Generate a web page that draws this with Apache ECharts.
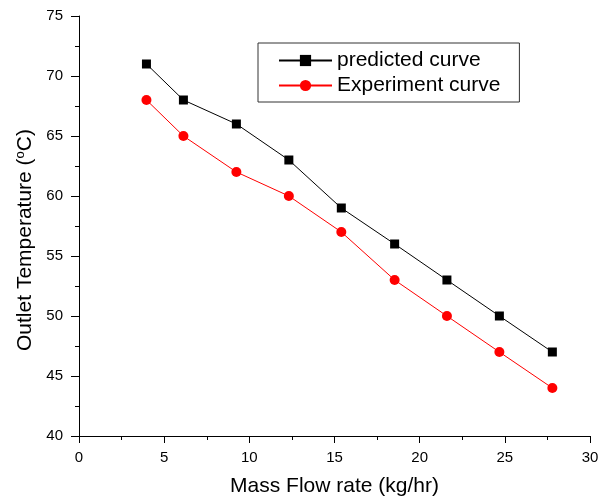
<!DOCTYPE html>
<html>
<head>
<meta charset="utf-8">
<script src="https://cdn.jsdelivr.net/npm/echarts@6/dist/echarts.min.js"></script>
<style>
html,body{margin:0;padding:0;background:#fff;}
#chart{width:612px;height:502px;}
</style>
</head>
<body>
<div id="chart"></div>
<script>
const massFlow = [3.96, 6.13, 9.24, 12.32, 15.4, 18.53, 21.6, 24.68, 27.79];
const predicted = [71, 68, 66, 63, 59, 56, 53, 50, 47];
const experiment = [68, 65, 62, 60, 57, 53, 50, 47, 44];
const seriesNames = ['predicted curve', 'Experiment curve'];

const FONT = 'Liberation Sans, Arial, sans-serif';
const chart = echarts.init(document.getElementById('chart'), null, {renderer: 'canvas'});

function pairs(xs, ys) { return xs.map((x, i) => [x, ys[i]]); }

chart.setOption({
  backgroundColor: '#fff',
  animation: false,
  grid: {left: 79, right: 22, top: 16, bottom: 66, containLabel: false},
  legend: {
    orient: 'vertical',
    left: 258, top: 43,
    padding: [7, 19, 6, 20],
    itemGap: 4,
    itemWidth: 53, itemHeight: 14,
    borderColor: '#333', borderWidth: 1,
    textStyle: {fontFamily: FONT, fontSize: 21, color: '#000'},
    data: seriesNames
  },
  xAxis: {
    type: 'value', min: 0, max: 30, interval: 5,
    name: 'Mass Flow rate (kg/hr)', nameLocation: 'middle', nameGap: 40,
    nameTextStyle: {fontFamily: FONT, fontSize: 21, color: '#000'},
    axisLine: {show: true, onZero: false, lineStyle: {color: '#000', width: 1}},
    axisTick: {show: true, inside: false, length: 7, lineStyle: {color: '#000'}},
    minorTick: {show: true, splitNumber: 2, length: 4, lineStyle: {color: '#000'}},
    axisLabel: {fontFamily: FONT, fontSize: 15, color: '#000', margin: 14},
    splitLine: {show: false}
  },
  yAxis: {
    type: 'value', min: 40, max: 75, interval: 5,
    name: '{t|Outlet Temperature (}{s|o}{t|C)}', nameLocation: 'middle', nameGap: 42,
    nameRotate: 90,
    nameTextStyle: {
      fontFamily: FONT, fontSize: 21, color: '#000', padding: [0, 28, 0, 0],
      rich: {
        t: {fontFamily: FONT, fontSize: 21, color: '#000'},
        s: {fontFamily: FONT, fontSize: 13, color: '#000', verticalAlign: 'top', padding: [0, 0, 8, 0]}
      }
    },
    axisLine: {show: true, onZero: false, lineStyle: {color: '#000', width: 1}},
    axisTick: {show: true, inside: false, length: 8, lineStyle: {color: '#000'}},
    minorTick: {show: true, splitNumber: 2, length: 4, lineStyle: {color: '#000'}},
    axisLabel: {fontFamily: FONT, fontSize: 15, color: '#000', margin: 16},
    splitLine: {show: false}
  },
  series: [
    {
      name: seriesNames[0], type: 'line', data: pairs(massFlow, predicted),
      symbol: 'rect', symbolSize: 9,
      lineStyle: {color: '#000', width: 1},
      itemStyle: {color: '#000'}
    },
    {
      name: seriesNames[1], type: 'line', data: pairs(massFlow, experiment),
      symbol: 'circle', symbolSize: 10,
      lineStyle: {color: '#ff0000', width: 1},
      itemStyle: {color: '#ff0000'}
    }
  ]
});
</script>
</body>
</html>
